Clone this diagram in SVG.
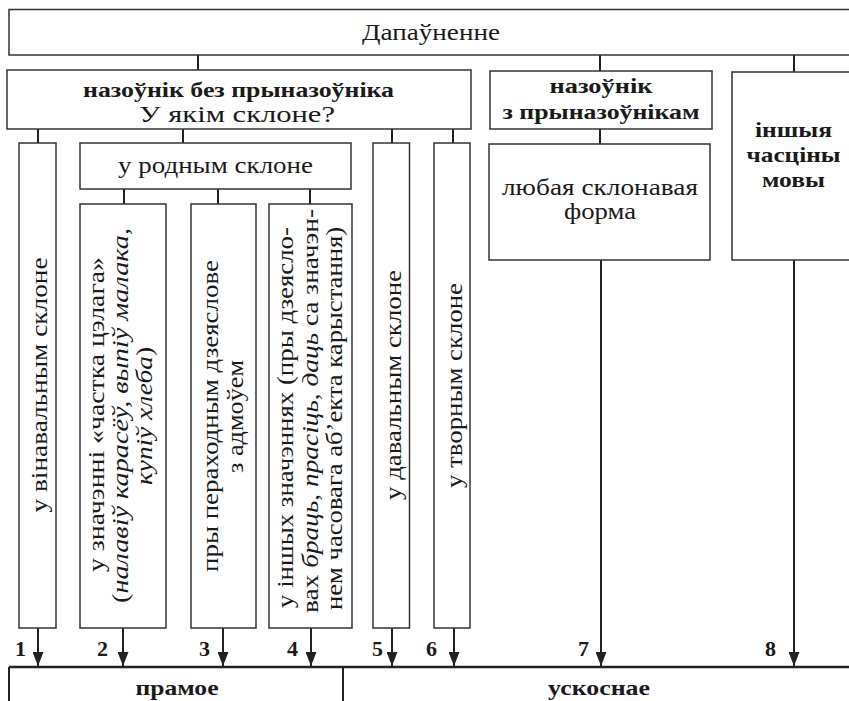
<svg xmlns="http://www.w3.org/2000/svg" width="849" height="701" viewBox="0 0 849 701">
<style>
.box{fill:#fff;stroke:#333;stroke-width:1.5}
.conn{stroke:#222;stroke-width:2;fill:none}
.base{stroke:#222;stroke-width:2.5;fill:none}
text{font-family:"Liberation Serif","DejaVu Serif",serif;fill:#1a1a1a}
.r{font-size:23px}
.v{font-size:24px}
.b{font-size:22px;font-weight:bold}
.n{font-size:22px;font-weight:bold}
.i{font-style:italic}
</style>
<defs>
<marker id="ah" viewBox="0 0 14 11" refX="14" refY="5.5" markerWidth="14" markerHeight="11" markerUnits="userSpaceOnUse" orient="auto">
<path d="M0,0 L14,5.5 L0,11 z" fill="#222"/>
</marker>
</defs>
<rect width="849" height="701" fill="#fff"/>

<g id="connectors">
<line class="conn" x1="198" y1="55" x2="198" y2="70"/>
<line class="conn" x1="600" y1="55" x2="600" y2="71"/>
<line class="conn" x1="794" y1="55" x2="794" y2="72"/>
<line class="conn" x1="38" y1="129" x2="38" y2="143"/>
<line class="conn" x1="183" y1="129" x2="183" y2="143"/>
<line class="conn" x1="392" y1="129" x2="392" y2="143"/>
<line class="conn" x1="453" y1="129" x2="453" y2="143"/>
<line class="conn" x1="600" y1="129" x2="600" y2="144"/>
<line class="conn" x1="124" y1="189" x2="124" y2="204"/>
<line class="conn" x1="218" y1="189" x2="218" y2="204"/>
<line class="conn" x1="310" y1="189" x2="310" y2="204"/>
<line class="conn" x1="38" y1="628" x2="38" y2="666" marker-end="url(#ah)"/>
<line class="conn" x1="123" y1="628" x2="123" y2="666" marker-end="url(#ah)"/>
<line class="conn" x1="223" y1="628" x2="223" y2="666" marker-end="url(#ah)"/>
<line class="conn" x1="311" y1="628" x2="311" y2="666" marker-end="url(#ah)"/>
<line class="conn" x1="392" y1="628" x2="392" y2="666" marker-end="url(#ah)"/>
<line class="conn" x1="454" y1="628" x2="454" y2="666" marker-end="url(#ah)"/>
<line class="conn" x1="601" y1="260" x2="601" y2="666" marker-end="url(#ah)"/>
<line class="conn" x1="794" y1="260" x2="794" y2="666" marker-end="url(#ah)"/>
</g>

<g id="top">
<rect class="box" x="9" y="9.5" width="860" height="45.5"/>
<text class="r" x="431" y="40" text-anchor="middle" textLength="138" lengthAdjust="spacingAndGlyphs">Дапаўненне</text>
</g>

<g id="noun-no-prep">
<rect class="box" x="7" y="70" width="464" height="59"/>
<text class="b" x="238.5" y="97" text-anchor="middle" textLength="311" lengthAdjust="spacingAndGlyphs">назоўнік без прыназоўніка</text>
<text class="r" x="237" y="122" text-anchor="middle" textLength="196" lengthAdjust="spacingAndGlyphs">У якім склоне?</text>
</g>

<g id="noun-prep">
<rect class="box" x="490" y="71" width="222" height="58"/>
<text class="b" x="601" y="93" text-anchor="middle" textLength="103" lengthAdjust="spacingAndGlyphs">назоўнік</text>
<text class="b" x="601" y="119" text-anchor="middle" textLength="197" lengthAdjust="spacingAndGlyphs">з прыназоўнікам</text>
</g>

<g id="other-parts">
<rect class="box" x="732" y="72" width="130" height="188"/>
<text class="b" x="793.5" y="137" text-anchor="middle" textLength="77" lengthAdjust="spacingAndGlyphs">іншыя</text>
<text class="b" x="793.5" y="162" text-anchor="middle" textLength="94" lengthAdjust="spacingAndGlyphs">часціны</text>
<text class="b" x="793.5" y="187" text-anchor="middle" textLength="63" lengthAdjust="spacingAndGlyphs">мовы</text>
</g>

<g id="any-form">
<rect class="box" x="489" y="144" width="221" height="116"/>
<text class="r" x="600" y="195" text-anchor="middle" textLength="196" lengthAdjust="spacingAndGlyphs">любая склонавая</text>
<text class="r" x="600" y="219" text-anchor="middle" textLength="72" lengthAdjust="spacingAndGlyphs">форма</text>
</g>

<g id="genitive">
<rect class="box" x="80" y="143" width="271" height="46"/>
<text class="r" x="215.5" y="173" text-anchor="middle" textLength="195" lengthAdjust="spacingAndGlyphs">у родным склоне</text>
</g>

<g id="accusative">
<rect class="box" x="19" y="143" width="37" height="485"/>
<text class="v" transform="translate(47,385) rotate(-90)" text-anchor="middle" textLength="255" lengthAdjust="spacingAndGlyphs">у вінавальным склоне</text>
</g>

<g id="partitive">
<rect class="box" x="80" y="204" width="86" height="424"/>
<text class="v" transform="translate(104,414.5) rotate(-90)" text-anchor="middle" textLength="315" lengthAdjust="spacingAndGlyphs">у значэнні «частка цэлага»</text>
<text class="v" transform="translate(128,415.5) rotate(-90)" text-anchor="middle" textLength="375" lengthAdjust="spacingAndGlyphs">(<tspan class="i">налавіў карасёў, выпіў малака,</tspan></text>
<text class="v" transform="translate(152,416) rotate(-90)" text-anchor="middle" textLength="138" lengthAdjust="spacingAndGlyphs"><tspan class="i">купіў хлеба</tspan>)</text>
</g>

<g id="negation">
<rect class="box" x="191" y="204" width="65" height="424"/>
<text class="v" transform="translate(218,416) rotate(-90)" text-anchor="middle" textLength="312" lengthAdjust="spacingAndGlyphs">пры пераходным дзеяслове</text>
<text class="v" transform="translate(243,416.5) rotate(-90)" text-anchor="middle" textLength="113" lengthAdjust="spacingAndGlyphs">з адмоўем</text>
</g>

<g id="other-meanings">
<rect class="box" x="269" y="204" width="83" height="424"/>
<text class="v" transform="translate(293,417.5) rotate(-90)" text-anchor="middle" textLength="381" lengthAdjust="spacingAndGlyphs">у іншых значэннях (пры дзеясло-</text>
<text class="v" transform="translate(317.5,411) rotate(-90)" text-anchor="middle" textLength="404" lengthAdjust="spacingAndGlyphs">вах <tspan class="i">браць</tspan>, <tspan class="i">прасіць</tspan>, <tspan class="i">даць</tspan> са значэн-</text>
<text class="v" transform="translate(342,418.5) rotate(-90)" text-anchor="middle" textLength="383" lengthAdjust="spacingAndGlyphs">нем часовага аб’екта карыстання)</text>
</g>

<g id="dative">
<rect class="box" x="373" y="143" width="36.5" height="485"/>
<text class="v" transform="translate(401,385) rotate(-90)" text-anchor="middle" textLength="230" lengthAdjust="spacingAndGlyphs">у давальным склоне</text>
</g>

<g id="instrumental">
<rect class="box" x="434" y="143" width="36" height="485"/>
<text class="v" transform="translate(461.5,385.5) rotate(-90)" text-anchor="middle" textLength="205" lengthAdjust="spacingAndGlyphs">у творным склоне</text>
</g>

<g id="numbers">
<text class="n" x="15" y="656">1</text>
<text class="n" x="97" y="656">2</text>
<text class="n" x="199" y="656">3</text>
<text class="n" x="287" y="656">4</text>
<text class="n" x="372" y="656">5</text>
<text class="n" x="426" y="656">6</text>
<text class="n" x="578" y="656">7</text>
<text class="n" x="765" y="656">8</text>
</g>

<g id="bottom">
<line class="base" x1="9" y1="667" x2="860" y2="667"/>
<line class="conn" x1="9" y1="667" x2="9" y2="705"/>
<line class="conn" x1="343" y1="667" x2="343" y2="705"/>
<text class="b" x="177" y="695" text-anchor="middle" textLength="83" lengthAdjust="spacingAndGlyphs">прамое</text>
<text class="b" x="599" y="695" text-anchor="middle" textLength="102" lengthAdjust="spacingAndGlyphs">ускоснае</text>
</g>
</svg>
